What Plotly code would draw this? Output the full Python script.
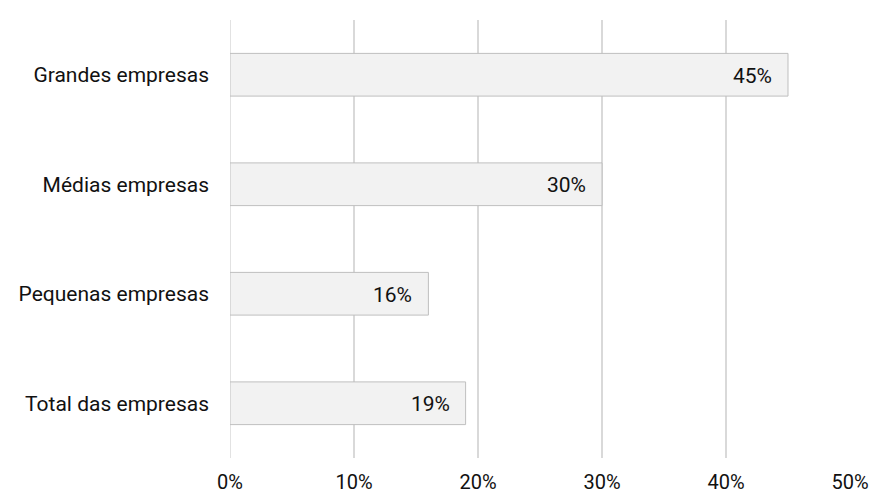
import plotly.graph_objects as go

categories = ["Total das empresas", "Pequenas empresas", "Médias empresas", "Grandes empresas"]
values = [19, 16, 30, 45]
labels = [f"{v}%" for v in values]
tick_vals = [0, 10, 20, 30, 40, 50]
tick_text = ["0%", "10%", "20%", "30%", "40%", "50%"]

FONT = "Roboto, sans-serif"
FS = 21

fig = go.Figure(go.Bar(
    y=categories, x=values, orientation="h",
    marker=dict(color="#f2f2f2", line=dict(color="#bfbfbf", width=1)),
    hoverinfo="skip",
))

for cat, v, lab in zip(categories, values, labels):
    fig.add_annotation(
        x=v, y=cat, xref="x", yref="y", text=lab, showarrow=False,
        xanchor="right", yanchor="middle", xshift=-14, yshift=-1,
        font=dict(family=FONT, size=FS, color="#111111"),
    )

fig.update_layout(
    width=873, height=499,
    margin=dict(l=230, r=23, t=20, b=41, autoexpand=False),
    plot_bgcolor="white", paper_bgcolor="white",
    bargap=0.61,
    showlegend=False,
    font=dict(family=FONT, size=FS, color="#111111"),
)
fig.update_xaxes(
    range=[0, 50], tickvals=tick_vals, ticktext=tick_text,
    showgrid=True, gridcolor="#d9d9d9", gridwidth=1.5,
    zeroline=False, showline=False, ticks="",
    ticklabelstandoff=10, automargin=False,
    tickfont=dict(family=FONT, size=20, color="#111111"),
)
fig.update_yaxes(
    showgrid=False, showline=False, ticks="",
    ticklabelstandoff=20, automargin=False,
    tickfont=dict(family=FONT, size=FS, color="#111111"),
)
fig.add_shape(type="line", xref="x", yref="paper", x0=0, x1=0, y0=0, y1=1,
              line=dict(color="#d9d9d9", width=1.5), layer="below")

fig.write_html("out.html")
